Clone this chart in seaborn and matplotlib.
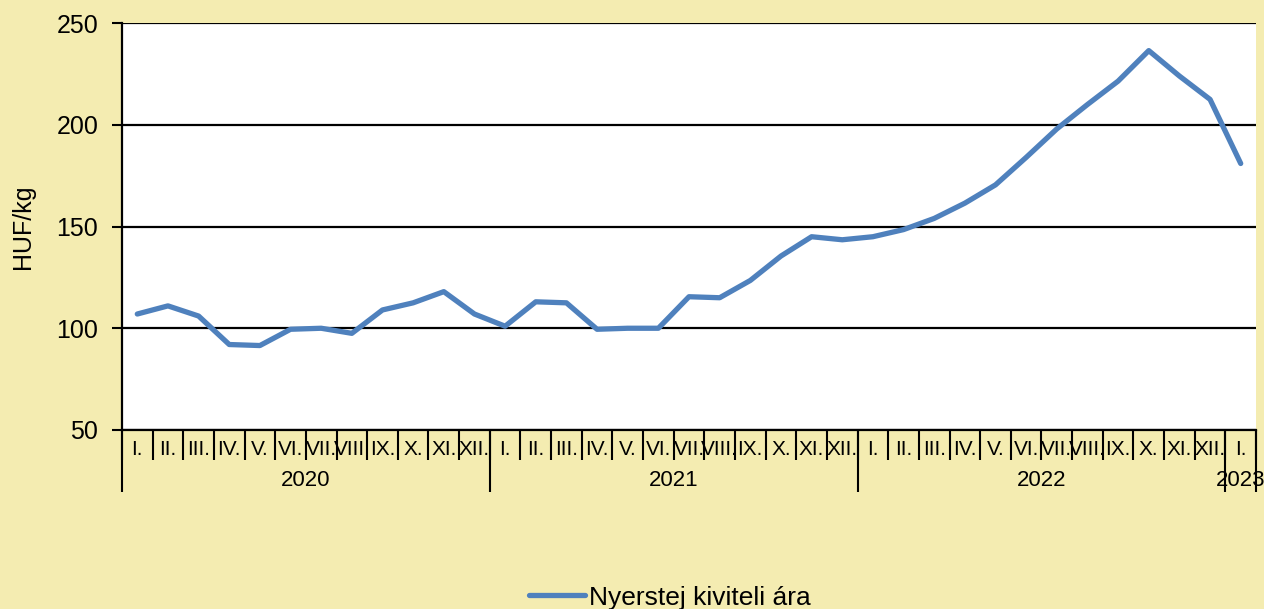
import numpy as np
import pandas as pd
import matplotlib
matplotlib.use('Agg')
import matplotlib.pyplot as plt
import seaborn as sns

# Monthly data, Jan 2020 - Jan 2023
months = ['I.', 'II.', 'III.', 'IV.', 'V.', 'VI.', 'VII.', 'VIII.', 'IX.', 'X.', 'XI.', 'XII.'] * 3 + ['I.']
years = ['2020', '2021', '2022', '2023']
price = [107, 111, 106, 92, 91.5, 99.5, 100, 97.5, 109, 112.5, 118, 107,
         101, 113, 112.5, 99.5, 100, 100, 115.5, 115, 123.5, 135.5, 145, 143.5,
         145, 148.5, 154, 161.5, 170.5, 184, 198, 210, 221.5, 236.5, 224, 212.5,
         181]

df = pd.DataFrame({'idx': np.arange(len(price)), 'price': price})

bg = '#F4ECB1'
blue = '#4F81BD'

sns.set_style('white')
plt.rcParams['font.family'] = ['Liberation Sans', 'DejaVu Sans']
plt.rcParams['text.color'] = 'black'
plt.rcParams['axes.labelcolor'] = 'black'
plt.rcParams['xtick.color'] = 'black'
plt.rcParams['ytick.color'] = 'black'

fig = plt.figure(figsize=(12.64, 6.09), dpi=100, facecolor=bg)
ax = fig.add_axes([0.0965, 0.294, 0.8972, 0.668])
ax.set_facecolor('white')

sns.lineplot(data=df, x='idx', y='price', ax=ax, color=blue, linewidth=3.8,
             label='Nyerstej kiviteli ára', solid_capstyle='round', zorder=3)

ax.set_xlim(-0.5, len(price) - 0.5)
ax.set_ylim(50, 250)
ax.set_yticks([50, 100, 150, 200, 250])
ax.tick_params(axis='y', labelsize=18, length=7, width=1.5, color='black', pad=10, direction='out', left=True)
ax.yaxis.grid(True, color='black', linewidth=1.6)
ax.set_axisbelow(True)
ax.set_ylabel('HUF/kg', fontsize=18)
ax.yaxis.set_label_coords(-0.077, 0.5)
ax.set_xlabel('')

for s in ['top', 'right']:
    ax.spines[s].set_visible(False)
for s in ['left', 'bottom']:
    ax.spines[s].set_color('black')
    ax.spines[s].set_linewidth(1.6)

# month level
n = len(price)
ax.set_xticks(np.arange(-0.5, n, 1.0))
ax.set_xticklabels([])
ax.set_xticks(np.arange(n), months, minor=True)
ax.tick_params(axis='x', which='major', length=21.5, width=1.5, color='black', direction='out', bottom=True)
ax.tick_params(axis='x', which='minor', length=0, labelsize=15, pad=7)

# year level
sec = ax.secondary_xaxis('bottom')
sec.spines['bottom'].set_visible(False)
sec.set_xticks([-0.5, 11.5, 23.5, 35.5, n - 0.5])
sec.set_xticklabels([])
sec.set_xticks([5.5, 17.5, 29.5, 36], years, minor=True)
sec.tick_params(axis='x', which='major', length=44.5, width=1.5, color='black', direction='out')
sec.tick_params(axis='x', which='minor', length=0, labelsize=16, pad=29)

ax.get_legend().remove()
h, l = ax.get_legend_handles_labels()
fig.legend(h, l, loc='lower center', bbox_to_anchor=(0.53, -0.04), frameon=False,
           fontsize=19, handlelength=2.1, handletextpad=0.15)

fig.savefig('out.png', dpi=100, facecolor=bg)
